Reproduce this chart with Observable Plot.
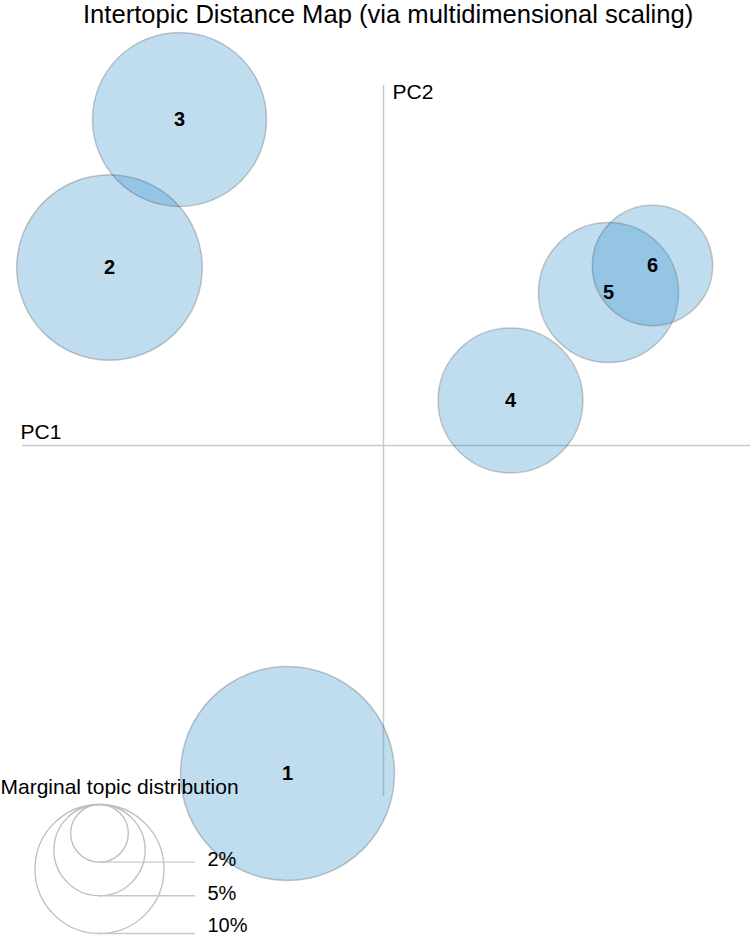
<!DOCTYPE html>
<html><head><meta charset="utf-8">
<script src="https://cdn.jsdelivr.net/npm/d3@7"></script>
<script src="https://cdn.jsdelivr.net/npm/@observablehq/plot@0.6"></script>
<style>
body{margin:0;background:#fff;}
#wrap{position:relative;width:750px;height:936px;overflow:hidden;}
#title{position:absolute;left:83px;top:1.5px;font:25.6px/1 "Liberation Sans",Arial,sans-serif;color:#000;white-space:nowrap;}
</style></head><body>
<div id="wrap"><div id="title">Intertopic Distance Map (via multidimensional scaling)</div></div>
<script>
// ---- data ----
const topics = ["1", "2", "3", "4", "5", "6"];
const pc1 = [-0.096, -0.274, -0.204, 0.127, 0.225, 0.269];
const pc2 = [-0.328, 0.178, 0.326, 0.045, 0.153, 0.180];
const marginalPct = [27.5, 20.7, 18.2, 12.6, 11.8, 8.7];
const legendPct = [2, 5, 10];
const legendLabels = ["2%", "5%", "10%"];
const legendTitle = "Marginal topic distribution";
const axisNames = ["PC1", "PC2"];

// ---- layout config (data units) ----
const xCfg = {domain: [-0.383, 0.367], range: [0, 750]};
const yCfg = {domain: [-0.491, 0.445], range: [936, 0]};
const rCfg = {type: "sqrt", domain: [0, 100], range: [0, 204]};
const axisXExtent = [-0.361, 0.37];
const axisYExtent = [-0.351, 0.360];
const axisLabelPos = [{x: -0.363, y: 0.007}, {x: 0.009, y: 0.347}];
const legendPos = {cx: -0.284, top: -0.359, lineEnd: -0.188, labelX: -0.176, titleX: -0.383, titleY: -0.348};

const topicRows = topics.map((t, i) => ({topic: t, x: pc1[i], y: pc2[i], pct: marginalPct[i]}));

const ys = Plot.scale({y: yCfg});
const rs = Plot.scale({r: rCfg});
const legendRows = legendPct.map((p, i) => {
  const topPx = ys.apply(legendPos.top);
  const r = rs.apply(p);
  const bottomPx = topPx + 2 * r;
  return {
    pct: p,
    label: legendLabels[i],
    cy: ys.invert(topPx + r),
    by: ys.invert(bottomPx),
    ly: ys.invert(Math.min(bottomPx + 4, 931)) // keep last label inside the picture
  };
});
const axisRows = axisNames.map((n, i) => ({name: n, ...axisLabelPos[i]}));

const font = '"Liberation Sans", Arial, sans-serif';
const axisGray = "#c9c9c9";

const chart = Plot.plot({
  width: 750,
  height: 936,
  margin: 0,
  x: {...xCfg, axis: null},
  y: {...yCfg, axis: null},
  r: rCfg,
  style: {fontFamily: font, background: "white", overflow: "visible"},
  marks: [
    Plot.ruleY([0], {x1: axisXExtent[0], x2: axisXExtent[1], stroke: axisGray, strokeWidth: 1.5}),
    Plot.ruleX([0], {y1: axisYExtent[0], y2: axisYExtent[1], stroke: axisGray, strokeWidth: 1.5}),
    Plot.text(axisRows, {x: "x", y: "y", text: "name", textAnchor: "start", lineAnchor: "bottom", fontSize: 21, fill: "#000"}),
    Plot.dot(topicRows, {x: "x", y: "y", r: "pct", fill: "#308ecd", fillOpacity: 0.3, stroke: "#000", strokeOpacity: 0.2, strokeWidth: 1.5, sort: null}),
    Plot.text(topicRows, {x: "x", y: "y", text: "topic", fontSize: 20, fontWeight: "bold", fill: "#000"}),
    Plot.dot(legendRows, {x: () => legendPos.cx, y: "cy", r: "pct", fill: "none", stroke: "#bdbdbd", strokeWidth: 1.3}),
    Plot.ruleY(legendRows, {y: "by", x1: () => legendPos.cx, x2: () => legendPos.lineEnd, stroke: axisGray, strokeWidth: 1.3}),
    Plot.text(legendRows, {x: () => legendPos.labelX, y: "ly", text: "label", textAnchor: "start", lineAnchor: "bottom", fontSize: 20, fill: "#000"}),
    Plot.text([legendTitle], {x: () => legendPos.titleX, y: () => legendPos.titleY, text: d => d, textAnchor: "start", lineAnchor: "bottom", fontSize: 21, fill: "#000"})
  ]
});
document.getElementById("wrap").appendChild(chart);
</script>
</body></html>
